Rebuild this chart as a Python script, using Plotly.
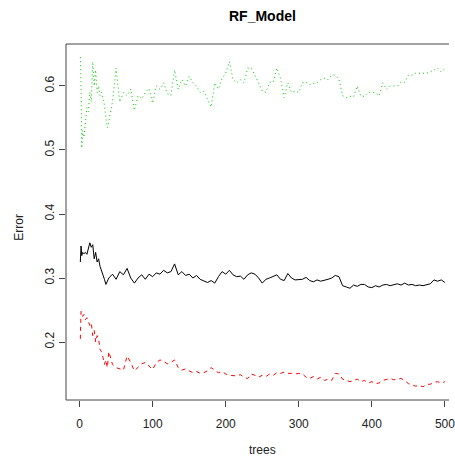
import plotly.graph_objects as go

trees = [1, 2, 3, 4, 6, 8, 10, 12, 14, 16, 18, 20, 22, 24, 26, 28, 30, 32, 34, 36, 38, 40] + list(range(45, 501, 5))

oob = [0.325, 0.35, 0.335, 0.34, 0.338, 0.34, 0.337, 0.345, 0.355, 0.348, 0.352, 0.33, 0.34, 0.325,
       0.33, 0.318, 0.312, 0.305, 0.298, 0.29, 0.296, 0.30,
       0.306, 0.298, 0.31, 0.305, 0.315, 0.30, 0.292, 0.30, 0.305, 0.298, 0.306, 0.302,
       0.308, 0.306, 0.312, 0.308, 0.31, 0.322, 0.305, 0.31, 0.304, 0.306, 0.30, 0.304,
       0.298, 0.295, 0.293, 0.296, 0.292, 0.302, 0.31, 0.306, 0.312, 0.305, 0.302, 0.303,
       0.298, 0.305, 0.308, 0.306, 0.300, 0.292, 0.298, 0.30, 0.302, 0.305, 0.298, 0.296,
       0.307, 0.30, 0.297, 0.297, 0.298, 0.301, 0.296, 0.294, 0.297, 0.295, 0.296, 0.298,
       0.30, 0.304, 0.302, 0.288, 0.286, 0.284, 0.289, 0.287, 0.29, 0.29, 0.286, 0.285,
       0.288, 0.286, 0.289, 0.29, 0.288, 0.29, 0.291, 0.289, 0.292, 0.289, 0.29, 0.288,
       0.289, 0.288, 0.29, 0.291, 0.297, 0.295, 0.297, 0.293]

class1 = [0.205, 0.248, 0.245, 0.24, 0.243, 0.235, 0.238, 0.232, 0.226, 0.23, 0.21, 0.218, 0.2, 0.21,
          0.205, 0.188, 0.185, 0.176, 0.165, 0.172, 0.16, 0.185,
          0.165, 0.16, 0.158, 0.156, 0.178, 0.168, 0.155, 0.16, 0.166, 0.168, 0.162, 0.157,
          0.168, 0.172, 0.17, 0.166, 0.168, 0.172, 0.16, 0.156, 0.158, 0.155, 0.152, 0.154,
          0.151, 0.152, 0.155, 0.16, 0.156, 0.152, 0.154, 0.15, 0.148, 0.148, 0.147, 0.149,
          0.145, 0.143, 0.15, 0.148, 0.145, 0.148, 0.146, 0.15, 0.148, 0.152, 0.151, 0.153,
          0.151, 0.151, 0.15, 0.151, 0.15, 0.145, 0.143, 0.146, 0.142, 0.145, 0.14, 0.142,
          0.14, 0.151, 0.15, 0.142, 0.14, 0.138, 0.14, 0.142, 0.138, 0.14, 0.136, 0.138,
          0.135, 0.136, 0.14, 0.142, 0.143, 0.141, 0.142, 0.143, 0.14, 0.135, 0.133, 0.131,
          0.132, 0.13, 0.134, 0.134, 0.137, 0.138, 0.136, 0.138]

class2 = [0.645, 0.60, 0.503, 0.53, 0.52, 0.545, 0.566, 0.56, 0.59, 0.575, 0.638, 0.60, 0.625, 0.59,
          0.60, 0.585, 0.59, 0.58, 0.57, 0.55, 0.535, 0.545,
          0.575, 0.628, 0.575, 0.59, 0.585, 0.595, 0.562, 0.585, 0.58, 0.59, 0.596, 0.573,
          0.60, 0.595, 0.605, 0.588, 0.585, 0.625, 0.595, 0.61, 0.60, 0.615, 0.605, 0.60,
          0.59, 0.592, 0.578, 0.567, 0.605, 0.595, 0.612, 0.62, 0.638, 0.61, 0.605, 0.61,
          0.605, 0.628, 0.628, 0.617, 0.605, 0.592, 0.59, 0.606, 0.606, 0.628, 0.612, 0.582,
          0.605, 0.59, 0.592, 0.59, 0.605, 0.606, 0.602, 0.604, 0.605, 0.61, 0.612, 0.61,
          0.617, 0.617, 0.61, 0.585, 0.582, 0.584, 0.583, 0.60, 0.584, 0.584, 0.59, 0.59,
          0.59, 0.585, 0.605, 0.595, 0.60, 0.60, 0.60, 0.606, 0.606, 0.617, 0.617, 0.62,
          0.62, 0.62, 0.62, 0.622, 0.625, 0.628, 0.622, 0.627]

x_ticks = [0, 100, 200, 300, 400, 500]
y_ticks = [0.2, 0.3, 0.4, 0.5, 0.6]

FONT = "Liberation Sans, Arial, sans-serif"

fig = go.Figure()
fig.add_trace(go.Scatter(x=trees, y=oob, mode="lines", name="OOB",
                         line=dict(color="#000000", width=1)))
fig.add_trace(go.Scatter(x=trees, y=class1, mode="lines", name="1",
                         line=dict(color="#FF0000", width=1, dash="4px,4px")))
fig.add_trace(go.Scatter(x=trees, y=class2, mode="lines", name="2",
                         line=dict(color="#00CD00", width=1, dash="1px,3px")))

fig.update_layout(
    width=455, height=457,
    margin=dict(l=66, r=0, t=44, b=57),
    paper_bgcolor="white", plot_bgcolor="white",
    showlegend=False,
    font=dict(family=FONT, size=12, color="#000"),
)
fig.update_xaxes(range=[-18.6, 505.6], tickvals=x_ticks, ticktext=[str(v) for v in x_ticks],
                 showgrid=False, zeroline=False, showline=False,
                 ticks="outside", ticklen=6, tickcolor="#444", tickwidth=1,
                 ticklabeloverflow="allow", ticklabelstandoff=7,
                 tickfont=dict(size=12, color="#222"))
fig.update_yaxes(range=[0.1094, 0.6656], tickvals=y_ticks, ticktext=[str(v) for v in y_ticks],
                 showgrid=False, zeroline=False, showline=False,
                 ticks="outside", ticklen=6, tickcolor="#444", tickwidth=1,
                 tickangle=-90, tickfont=dict(size=12, color="#222"))

box = dict(type="line", xref="paper", yref="paper", line=dict(color="#444", width=1))
fig.add_shape(x0=0, x1=0, y0=0, y1=1, **box)
fig.add_shape(x0=0, x1=1, y0=1, y1=1, **box)
fig.add_shape(x0=0, x1=1, y0=0, y1=0, **box)

fig.add_annotation(text="<b>RF_Model</b>", x=0.514, y=1.0787, xref="paper", yref="paper",
                   showarrow=False, font=dict(size=14, color="#000"), xanchor="center", yanchor="middle")
fig.add_annotation(text="trees", x=0.514, y=-0.1404, xref="paper", yref="paper",
                   showarrow=False, font=dict(size=12, color="#222"), xanchor="center", yanchor="middle")
fig.add_annotation(text="Error", x=-0.1234, y=0.486, xref="paper", yref="paper", textangle=-90,
                   showarrow=False, font=dict(size=12, color="#222"), xanchor="center", yanchor="middle")

fig.write_html("out.html")
